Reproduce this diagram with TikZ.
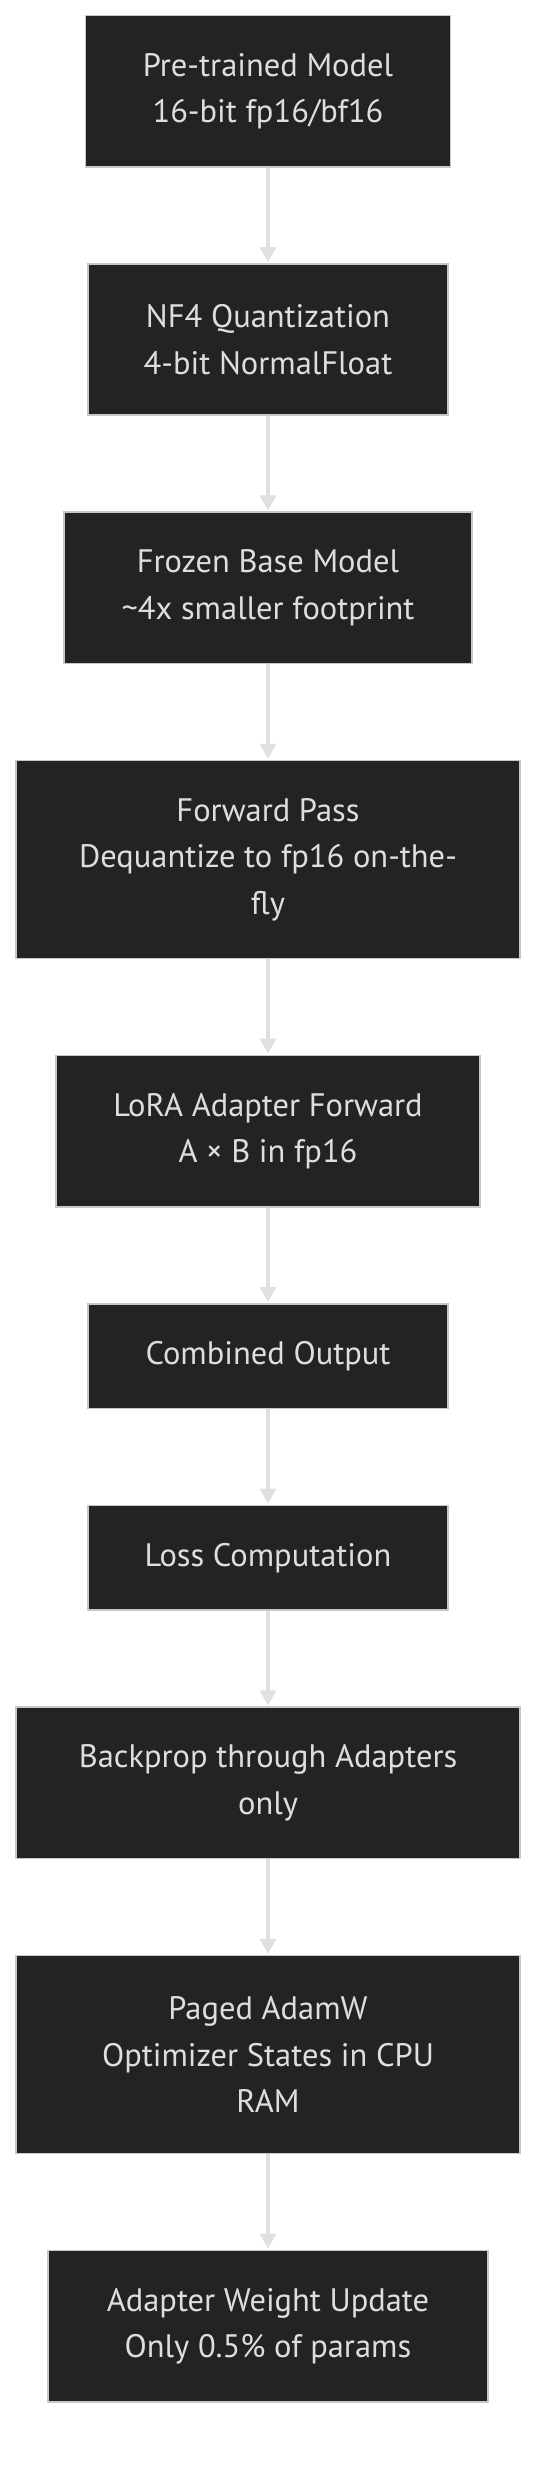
\documentclass[tikz,border=0pt]{standalone}
\usepackage{fontspec}
\setmainfont{PT Sans}
\usetikzlibrary{arrows.meta}
\definecolor{boxfill}{RGB}{34,35,34}
\definecolor{boxtext}{RGB}{222,222,222}
\definecolor{boxline}{RGB}{200,200,200}
\definecolor{edgecol}{RGB}{224,224,224}
\tikzset{
  stepbox/.style={draw=boxline, line width=1.6pt, fill=boxfill, text=boxtext,
    inner sep=0pt, align=center, minimum height=151.3pt,
    font=\fontsize{32.5}{46.5}\selectfont},
  onebox/.style={stepbox, minimum height=104.8pt},
  threebox/.style={stepbox, minimum height=197.9pt},
  flow/.style={draw=edgecol, line width=3.6pt,
    -{Triangle[width=16pt,length=15pt,fill=edgecol]}, shorten >=1pt}
}
\begin{document}
\begin{tikzpicture}[x=1pt,y=-1pt]
\useasboundingbox[fill=white] (0,0) rectangle (552,2492);
\node[stepbox, minimum width=365pt] (b1) at (268,91.2) {Pre-trained Model\\16-bit fp16/bf16};
\node[stepbox, minimum width=360pt] (b2) at (268,339.5) {NF4 Quantization\\4-bit NormalFloat};
\node[stepbox, minimum width=408pt] (b3) at (268,587.9) {Frozen Base Model\\\textasciitilde 4x smaller footprint};
\node[threebox, minimum width=504pt] (b4) at (268,859.5) {Forward Pass\\Dequantize to fp16 on-the-\\fly};
\node[stepbox, minimum width=424pt] (b5) at (268,1131.1) {LoRA Adapter Forward\\A × B in fp16};
\node[onebox, minimum width=360pt] (b6) at (268,1356.1) {Combined Output};
\node[onebox, minimum width=360pt] (b7) at (268,1557.8) {Loss Computation};
\node[stepbox, minimum width=504pt] (b8) at (268,1782.9) {Backprop through Adapters\\only};
\node[threebox, minimum width=504pt] (b9) at (268,2054.5) {Paged AdamW\\Optimizer States in CPU\\RAM};
\node[stepbox, minimum width=440pt] (b10) at (268,2326.1) {Adapter Weight Update\\Only 0.5\% of params};
\foreach \a/\b in {b1/b2,b2/b3,b3/b4,b4/b5,b5/b6,b6/b7,b7/b8,b8/b9,b9/b10}
  \draw[flow] (\a.south) -- (\b.north);
\end{tikzpicture}
\end{document}
